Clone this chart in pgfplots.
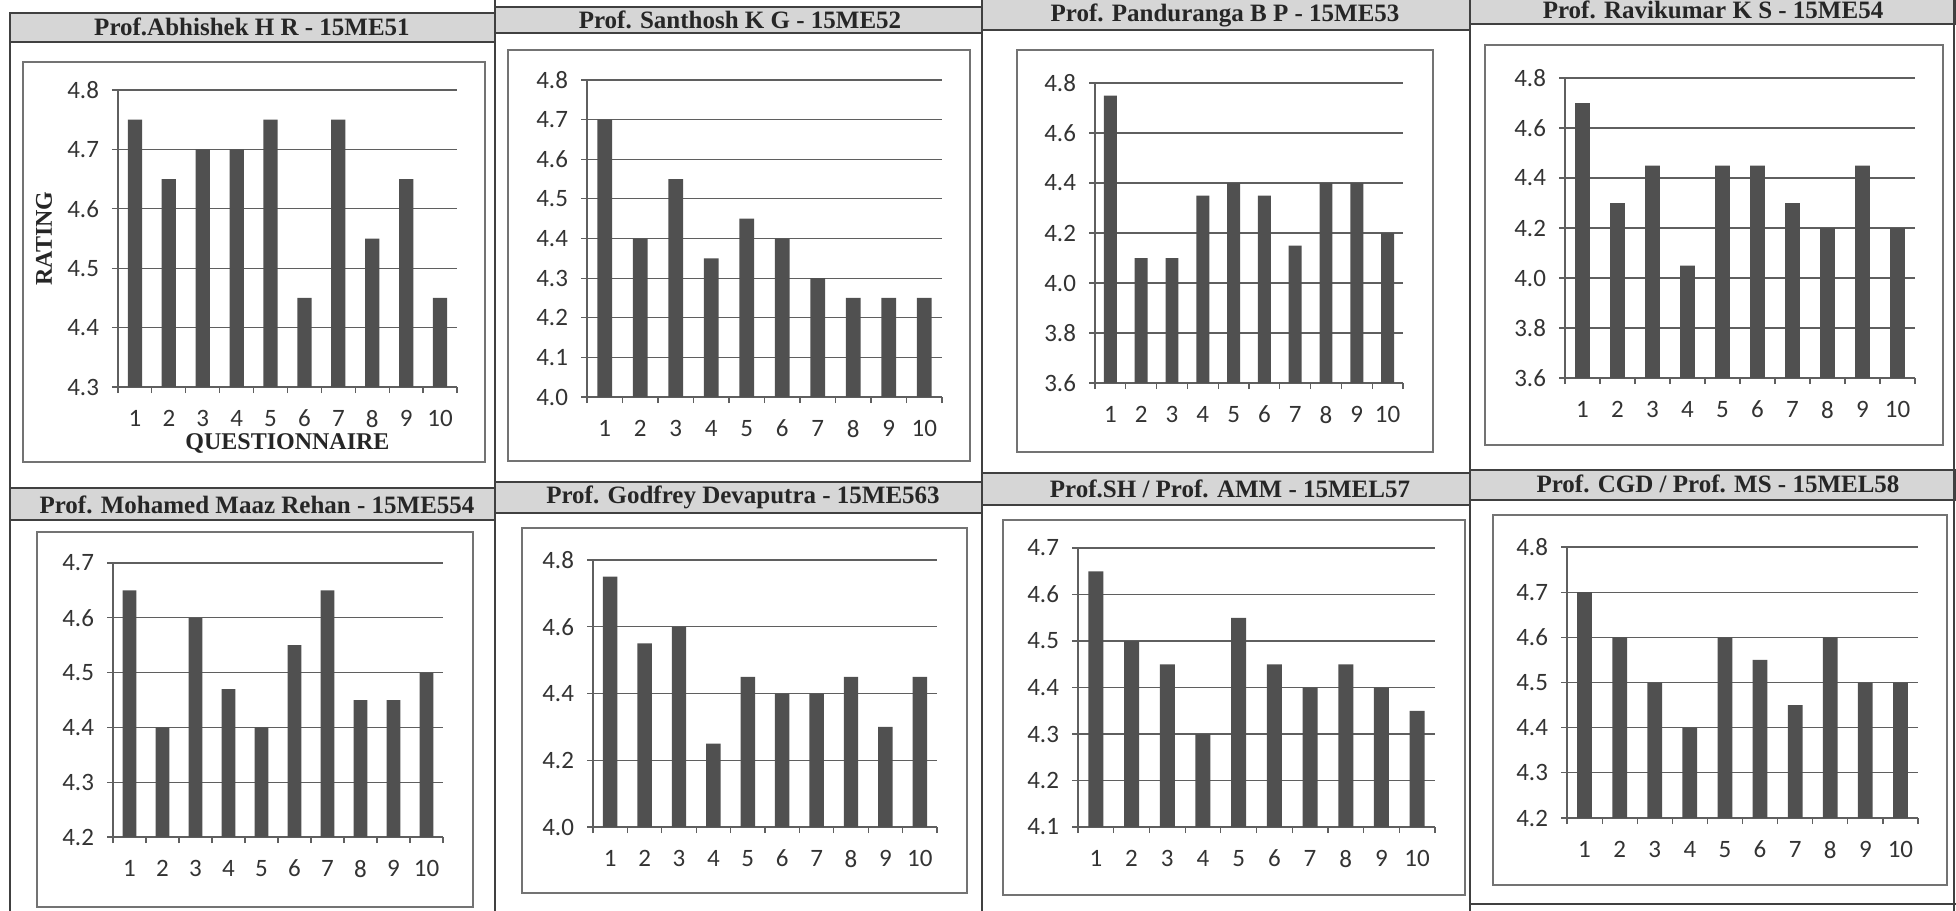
\documentclass[border=0pt]{standalone}
\usepackage{fontspec}
\setmainfont{Liberation Serif}
\newfontfamily\carlito{Carlito}
\usepackage{pgfplots}
\pgfplotsset{compat=1.18}

\definecolor{bargray}{RGB}{80,80,80}
\definecolor{hdrgray}{RGB}{214,214,214}
\definecolor{gridgray}{RGB}{95,95,95}

\pgfplotsset{
  panel/.style={
    scale only axis, anchor=south west,
    ybar, bar width=0.42,
    xmin=0.5, xmax=10.5,
    xtick={1,2,3,4,5,6,7,8,9,10},
    minor xtick={0.5,1.5,2.5,3.5,4.5,5.5,6.5,7.5,8.5,9.5,10.5},
    axis x line*=bottom, axis y line*=left,
    axis line style={gridgray, line width=0.6pt},
    ymajorgrids, major grid style={gridgray, line width=0.6pt},
    tick align=outside, major tick length=3pt, minor tick length=3pt,
    tick style={gridgray, line width=0.6pt},
    major x tick style={draw=none},
    /pgf/number format/assume math mode=true,
    ticklabel style={font=\fontsize{12.5}{13}\carlito, text=black!80},
    xticklabel style={yshift=-5pt},
    yticklabel style={xshift=-3pt,
      /pgf/number format/fixed,
      /pgf/number format/fixed zerofill,
      /pgf/number format/precision=1},
  },
}

\begin{document}
\begin{tikzpicture}
\begin{scope}[x=0.5pt, y=-0.5pt]
  \useasboundingbox (0,0) rectangle (1956,911);
  % header bands
  \tikzset{hdr/.style={fill=hdrgray, draw=black!75, line width=0.6pt},
           htxt/.style={font=\fontsize{12.5}{14}\selectfont\bfseries, text=black!85}}
  \draw[hdr] (10,13) rectangle (495,42);
  \node[htxt] at (252,27) {Prof.Abhishek H R - 15ME51};
  \draw[hdr] (495,7) rectangle (982,33);
  \node[htxt] at (740,20) {Prof. Santhosh K G - 15ME52};
  \draw[hdr] (982,-2) rectangle (1470,30);
  \node[htxt] at (1225,15) {Prof. Panduranga B P - 15ME53};
  \draw[hdr] (1470,-4) rectangle (1956,24);
  \node[htxt] at (1713,10) {Prof. Ravikumar K S - 15ME54};
  \draw[hdr] (10,488) rectangle (495,520);
  \node[htxt] at (257,505) {Prof. Mohamed Maaz Rehan - 15ME554};
  \draw[hdr] (495,482) rectangle (982,513);
  \node[htxt] at (743,497) {Prof. Godfrey Devaputra - 15ME563};
  \draw[hdr] (982,473) rectangle (1470,505);
  \node[htxt] at (1230,489) {Prof.SH / Prof. AMM - 15MEL57};
  \draw[hdr] (1470,470) rectangle (1956,500);
  \node[htxt] at (1718,484) {Prof. CGD / Prof. MS - 15MEL58};
  % table lines
  \draw[black!75, line width=0.8pt] (10,13) -- (10,911);
  \draw[black!75, line width=0.8pt] (495,0) -- (495,911);
  \draw[black!75, line width=0.8pt] (982,0) -- (982,911);
  \draw[black!75, line width=0.8pt] (1470,0) -- (1470,911);
  \draw[black!75, line width=0.8pt] (1954,0) -- (1954,911);
  \draw[black!75, line width=0.8pt] (1470,904) -- (1956,904);
  % chart frames
  \tikzset{frame/.style={draw=black!55, line width=0.6pt}}
  \draw[frame] (23,62) rectangle (485,462);
  \draw[frame] (508,50) rectangle (970,461);
  \draw[frame] (1017,50) rectangle (1433,452);
  \draw[frame] (1485,45) rectangle (1943,445);
  \draw[frame] (37,532) rectangle (473,907);
  \draw[frame] (522,528) rectangle (967,893);
  \draw[frame] (1003,520) rectangle (1465,895);
  \draw[frame] (1493,515) rectangle (1947,885);
\end{scope}

% 15ME51
\begin{axis}[panel, at={(59pt,-193.5pt)}, width=169.5pt, height=148.5pt,
  ymin=4.3, ymax=4.8, ytick distance=0.1,
  xlabel={QUESTIONNAIRE}, ylabel={RATING},
  every axis y label/.style={at={(rel axis cs:0,0.5)}, xshift=-37pt, rotate=90, anchor=center,
    font=\fontsize{12}{12}\selectfont\bfseries, text=black!85},
  every axis x label/.style={at={(rel axis cs:0.5,0)}, yshift=-28pt, anchor=center,
    font=\fontsize{12}{12}\selectfont\bfseries, text=black!85}]
\addplot[fill=bargray, draw=none] coordinates
  {(1,4.75)(2,4.65)(3,4.70)(4,4.70)(5,4.75)(6,4.45)(7,4.75)(8,4.55)(9,4.65)(10,4.45)};
\end{axis}

% 15ME52
\begin{axis}[panel, at={(293.5pt,-198.5pt)}, width=177.5pt, height=158.5pt,
  ymin=4.0, ymax=4.8, ytick distance=0.1]
\addplot[fill=bargray, draw=none] coordinates
  {(1,4.70)(2,4.40)(3,4.55)(4,4.35)(5,4.45)(6,4.40)(7,4.30)(8,4.25)(9,4.25)(10,4.25)};
\end{axis}

% 15ME53
\begin{axis}[panel, at={(547.5pt,-191.5pt)}, width=154pt, height=150pt,
  ymin=3.6, ymax=4.8, ytick distance=0.2]
\addplot[fill=bargray, draw=none] coordinates
  {(1,4.75)(2,4.10)(3,4.10)(4,4.35)(5,4.40)(6,4.35)(7,4.15)(8,4.40)(9,4.40)(10,4.20)};
\end{axis}

% 15ME54
\begin{axis}[panel, at={(782.5pt,-189pt)}, width=175pt, height=150pt,
  ymin=3.6, ymax=4.8, ytick distance=0.2]
\addplot[fill=bargray, draw=none] coordinates
  {(1,4.70)(2,4.30)(3,4.45)(4,4.05)(5,4.45)(6,4.45)(7,4.30)(8,4.20)(9,4.45)(10,4.20)};
\end{axis}

% 15ME554
\begin{axis}[panel, at={(56.5pt,-418.5pt)}, width=165pt, height=137pt,
  ymin=4.2, ymax=4.7, ytick distance=0.1]
\addplot[fill=bargray, draw=none] coordinates
  {(1,4.65)(2,4.40)(3,4.60)(4,4.47)(5,4.40)(6,4.55)(7,4.65)(8,4.45)(9,4.45)(10,4.50)};
\end{axis}

% 15ME563
\begin{axis}[panel, at={(296.5pt,-413.5pt)}, width=172pt, height=133.5pt,
  ymin=4.0, ymax=4.8, ytick distance=0.2]
\addplot[fill=bargray, draw=none] coordinates
  {(1,4.75)(2,4.55)(3,4.60)(4,4.25)(5,4.45)(6,4.40)(7,4.40)(8,4.45)(9,4.30)(10,4.45)};
\end{axis}

% 15MEL57
\begin{axis}[panel, at={(539pt,-413.5pt)}, width=178.5pt, height=139.5pt,
  ymin=4.1, ymax=4.7, ytick distance=0.1]
\addplot[fill=bargray, draw=none] coordinates
  {(1,4.65)(2,4.50)(3,4.45)(4,4.30)(5,4.55)(6,4.45)(7,4.40)(8,4.45)(9,4.40)(10,4.35)};
\end{axis}

% 15MEL58
\begin{axis}[panel, at={(783.5pt,-409pt)}, width=175.5pt, height=135.5pt,
  ymin=4.2, ymax=4.8, ytick distance=0.1]
\addplot[fill=bargray, draw=none] coordinates
  {(1,4.70)(2,4.60)(3,4.50)(4,4.40)(5,4.60)(6,4.55)(7,4.45)(8,4.60)(9,4.50)(10,4.50)};
\end{axis}
\end{tikzpicture}
\end{document}
